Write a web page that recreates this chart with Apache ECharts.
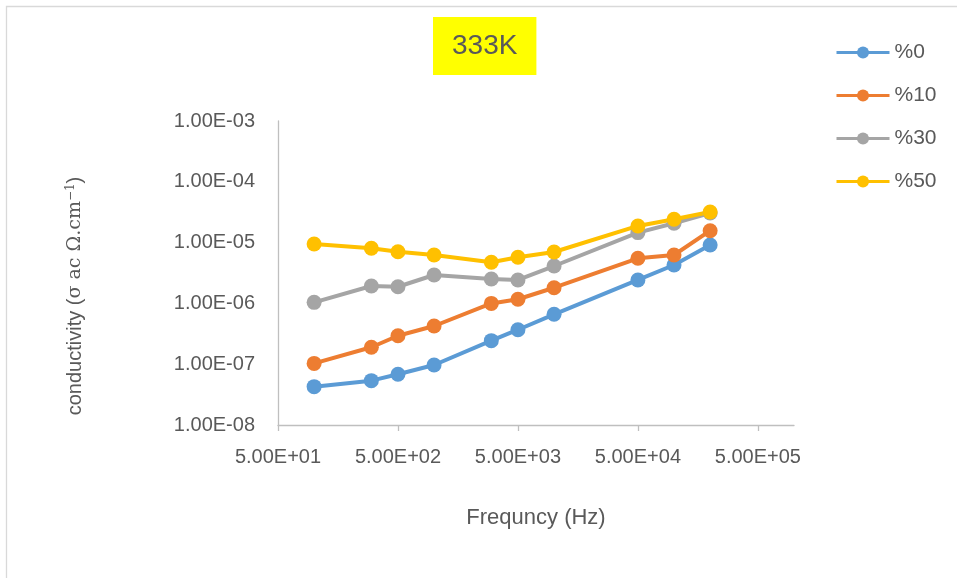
<!DOCTYPE html>
<html>
<head>
<meta charset="utf-8">
<script src="https://cdn.jsdelivr.net/npm/echarts@6/dist/echarts.min.js"></script>
<style>
html,body{margin:0;padding:0;background:#fff;}
#chart{width:957px;height:578px;}
</style>
</head>
<body>
<div id="chart"></div>
<script>
// ---- data ----
const frequencies = [100, 300, 500, 1000, 3000, 5000, 10000, 50000, 100000, 200000];
const seriesNames = ['%0', '%10', '%30', '%50'];
const s0  = [4.27e-8, 5.36e-8, 6.82e-8, 9.7e-8, 2.44e-7, 3.69e-7, 6.62e-7, 2.43e-6, 4.28e-6, 9.14e-6];
const s10 = [1.03e-7, 1.90e-7, 2.94e-7, 4.25e-7, 1.00e-6, 1.17e-6, 1.81e-6, 5.52e-6, 6.25e-6, 1.57e-5];
const s30 = [1.04e-6, 1.93e-6, 1.88e-6, 2.93e-6, 2.52e-6, 2.43e-6, 4.12e-6, 1.46e-5, 2.08e-5, 3.07e-5];
const s50 = [9.48e-6, 8.06e-6, 7.08e-6, 6.25e-6, 4.74e-6, 5.73e-6, 7.0e-6, 1.88e-5, 2.42e-5, 3.19e-5];
const xTickValues = [50, 500, 5000, 50000, 500000];
const yTickValues = [1e-8, 1e-7, 1e-6, 1e-5, 1e-4, 1e-3];
const colors = ['#5B9BD5', '#ED7D31', '#A5A5A5', '#FFC000'];
const allSeries = [s0, s10, s30, s50];

function fmtSci(v) {
  const e = Math.floor(Math.log10(v) + 1e-9);
  let m = v / Math.pow(10, e);
  return m.toFixed(2) + 'E' + (e < 0 ? '-' : '+') + String(Math.abs(e)).padStart(2, '0');
}

const FONT = "'Liberation Sans', 'Noto Sans', sans-serif";
const TXT = '#595959';

const chart = echarts.init(document.getElementById('chart'), null, {renderer: 'canvas'});
chart.setOption({
  animation: false,
  backgroundColor: '#ffffff',
  color: colors,
  title: {
    text: '333K',
    left: 433, top: 17,
    padding: [15, 19, 15, 19],
    backgroundColor: '#FFFF00',
    textStyle: {color: TXT, fontSize: 28, fontWeight: 'normal', fontFamily: FONT, lineHeight: 28}
  },
  legend: {
    orient: 'vertical',
    left: 835, top: 42, padding: 0,
    itemWidth: 53, itemHeight: 15, itemGap: 22,
    lineStyle: {width: 3},
    textStyle: {color: TXT, fontSize: 21, fontFamily: FONT, lineHeight: 21},
    data: seriesNames
  },
  grid: {left: 278, right: 163, top: 121, bottom: 153, containLabel: false},
  xAxis: {
    type: 'log', logBase: 10, min: 50, max: 1000000,
    axisLine: {show: true, lineStyle: {color: '#BFBFBF', width: 1.3}},
    axisTick: {show: true, inside: false, length: 6, lineStyle: {color: '#BFBFBF', width: 1.3}, customValues: xTickValues},
    axisLabel: {show: true, margin: 22, color: TXT, fontSize: 20, fontFamily: FONT, customValues: xTickValues, formatter: v => fmtSci(v)},
    splitLine: {show: false},
    minorTick: {show: false}, minorSplitLine: {show: false},
    name: 'Frequncy (Hz)', nameLocation: 'middle', nameGap: 82,
    nameTextStyle: {color: TXT, fontSize: 22, fontFamily: FONT}
  },
  yAxis: {
    type: 'log', logBase: 10, min: 1e-8, max: 1e-3,
    axisLine: {show: true, lineStyle: {color: '#BFBFBF', width: 1.3}},
    axisTick: {show: false},
    axisLabel: {show: true, margin: 23, color: TXT, fontSize: 20, fontFamily: FONT, customValues: yTickValues, formatter: v => fmtSci(v)},
    splitLine: {show: false}
  },
  graphic: [
    {type: 'rect', shape: {x: 6.5, y: 6.5, width: 1200, height: 1200}, style: {fill: 'none', stroke: '#D9D9D9', lineWidth: 1.3}, silent: true},
    {
      type: 'text', x: 75, y: 296, rotation: Math.PI / 2,
      style: {
        text: '{a|conductivity (}{b|σ ac Ω.cm}{c|−1}{a|)}',
        align: 'center', verticalAlign: 'middle',
        rich: {
          a: {fontSize: 20, fontFamily: FONT, fill: TXT, color: TXT},
          b: {fontSize: 19, fontFamily: "'DejaVu Serif', 'Liberation Serif', serif", fill: TXT, color: TXT},
          c: {fontSize: 12, fontFamily: "'DejaVu Serif', 'Liberation Serif', serif", fill: TXT, color: TXT, verticalAlign: 'top', padding: [0, 0, 9, 0]}
        }
      }
    }
  ],
  series: seriesNames.map((n, i) => ({
    name: n, type: 'line',
    data: frequencies.map((f, j) => [f, allSeries[i][j]]),
    symbol: 'circle', symbolSize: 15,
    lineStyle: {color: colors[i], width: 4},
    itemStyle: {color: colors[i]},
    emphasis: {disabled: true}
  }))
});
</script>
</body>
</html>
